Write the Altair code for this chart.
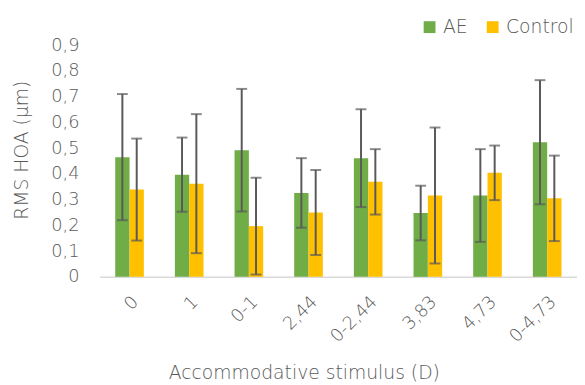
import altair as alt
import pandas as pd

categories = ["0", "1", "0-1", "2,44", "0-2,44", "3,83", "4,73", "0-4,73"]
ae_mean = [0.465, 0.397, 0.492, 0.326, 0.461, 0.248, 0.316, 0.523]
ae_sd = [0.245, 0.144, 0.238, 0.135, 0.190, 0.106, 0.180, 0.241]
ctrl_mean = [0.339, 0.362, 0.197, 0.250, 0.369, 0.316, 0.404, 0.305]
ctrl_sd = [0.198, 0.270, 0.188, 0.165, 0.127, 0.264, 0.106, 0.166]
groups = ["AE", "Control"]
colors = ["#70AD47", "#FFC000"]

rows = []
for i, c in enumerate(categories):
    for g, m, s in ((groups[0], ae_mean[i], ae_sd[i]), (groups[1], ctrl_mean[i], ctrl_sd[i])):
        rows.append({"cat": c, "group": g, "mean": m, "lo": m - s, "hi": m + s})
df = pd.DataFrame(rows)

FONT = "DejaVu Sans"
WEIGHT = 200
GREY = "#595959"

xscale = alt.Scale(paddingInner=0.52, paddingOuter=0.26)
yscale = alt.Scale(domain=[0, 0.9], nice=False)
offscale = alt.Scale(paddingInner=0, paddingOuter=0)

xaxis = alt.Axis(
    title="Accommodative stimulus (D)",
    labelAngle=-45,
    labelAlign="right",
    labelBaseline="top",
    labelPadding=16,
    ticks=False,
    tickSize=0,
    grid=False,
    domainColor="#D9D9D9",
    domainWidth=1.5,
    labelFontSize=18,
    labelColor=GREY,
    labelFont=FONT,
    labelFontWeight=WEIGHT,
    labelOverlap=False,
    titleFont=FONT,
    titleFontSize=19,
    titleFontWeight=WEIGHT,
    titleColor=GREY,
    titleX=207,
    titleY=103,
    titleAlign="center",
    titleBaseline="alphabetic",
)
yaxis = alt.Axis(
    title="RMS HOA (µm)",
    values=[0, 0.1, 0.2, 0.3, 0.4, 0.5, 0.6, 0.7, 0.8, 0.9],
    labelExpr="datum.value == 0 ? '0' : replace(format(datum.value, '.1f'), '.', ',')",
    labelOverlap=False,
    grid=False,
    domain=False,
    ticks=False,
    tickSize=0,
    labelPadding=21,
    labelFontSize=18,
    labelColor=GREY,
    labelFont=FONT,
    labelFontWeight=WEIGHT,
    titleFont=FONT,
    titleFontSize=19,
    titleFontWeight=WEIGHT,
    titleColor=GREY,
    titleAngle=-90,
    titleX=-79,
    titleY=106,
    titleAlign="center",
    titleBaseline="middle",
)

xenc = alt.X("cat:N", sort=categories, scale=xscale, axis=xaxis)
xoff = alt.XOffset("group:N", sort=groups, scale=offscale)

bars = alt.Chart(df).mark_bar().encode(
    x=xenc,
    xOffset=xoff,
    y=alt.Y("mean:Q", scale=yscale, axis=yaxis),
    color=alt.Color(
        "group:N",
        sort=groups,
        scale=alt.Scale(domain=groups, range=colors),
        legend=alt.Legend(
            title=None,
            orient="none",
            legendX=325,
            legendY=-28,
            direction="horizontal",
            symbolType="square",
            symbolSize=144,
            symbolStrokeWidth=0,
            labelFontSize=19,
            labelFont=FONT,
            labelFontWeight=WEIGHT,
            labelColor=GREY,
            labelOffset=4,
            columnPadding=15,
            padding=0,
        ),
    ),
)

rules = alt.Chart(df).mark_rule(color=GREY, strokeWidth=2).encode(
    x=xenc,
    xOffset=xoff,
    y=alt.Y("lo:Q", scale=yscale, axis=yaxis),
    y2="hi:Q",
)
caps_hi = alt.Chart(df).mark_tick(color=GREY, thickness=2, size=11).encode(
    x=xenc,
    xOffset=xoff,
    y=alt.Y("hi:Q", scale=yscale, axis=yaxis),
)
caps_lo = alt.Chart(df).mark_tick(color=GREY, thickness=2, size=11).encode(
    x=xenc,
    xOffset=xoff,
    y=alt.Y("lo:Q", scale=yscale, axis=yaxis),
)

chart = (
    alt.layer(bars, rules, caps_hi, caps_lo)
    .properties(
        width=484,
        height=235,
        autosize=alt.AutoSizeParams(type="none"),
        padding={"left": 93, "top": 35, "right": 0, "bottom": 107},
    )
    .configure(font=FONT)
    .configure_view(strokeWidth=0, stroke="transparent")
)

chart.save("out.html", embed_options={"renderer": "svg", "actions": False})
